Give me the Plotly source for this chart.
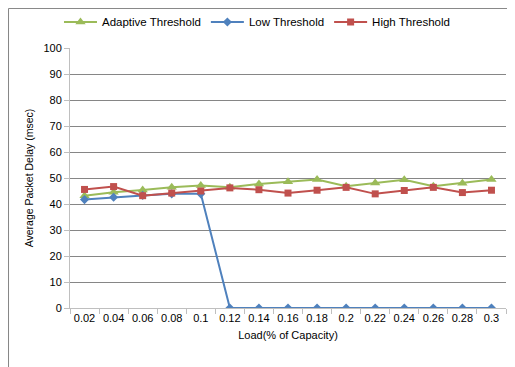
import plotly.graph_objects as go

loads = ["0.02", "0.04", "0.06", "0.08", "0.1", "0.12", "0.14", "0.16", "0.18", "0.2",
         "0.22", "0.24", "0.26", "0.28", "0.3"]
adaptive = [43.2, 44.5, 45.4, 46.4, 47.1, 46.4, 47.7, 48.6, 49.4, 46.8, 48.1, 49.3, 46.8, 48.0, 49.4]
low = [41.7, 42.6, 43.3, 43.9, 43.9, 0, 0, 0, 0, 0, 0, 0, 0, 0, 0]
high = [45.6, 46.7, 43.2, 44.2, 45.0, 46.2, 45.5, 44.2, 45.3, 46.4, 43.9, 45.2, 46.4, 44.4, 45.3]
y_ticks = list(range(0, 101, 10))

FONT = "Liberation Sans"

fig = go.Figure()
fig.add_trace(go.Scatter(x=loads, y=adaptive, name="Adaptive Threshold", mode="lines+markers",
                         line=dict(color="#9BBB59", width=2),
                         marker=dict(symbol="triangle-up", size=9, color="#9BBB59")))
fig.add_trace(go.Scatter(x=loads, y=low, name="Low Threshold", mode="lines+markers",
                         line=dict(color="#4F81BD", width=2),
                         marker=dict(symbol="diamond", size=7, color="#4F81BD")))
fig.add_trace(go.Scatter(x=loads, y=high, name="High Threshold", mode="lines+markers",
                         line=dict(color="#C0504D", width=2),
                         marker=dict(symbol="square", size=7, color="#C0504D")))

# outer chart border (partially cropped in reference)
fig.add_shape(type="line", xref="paper", yref="paper", x0=-0.141, x1=1.2, y0=1.152, y1=1.152,
              line=dict(color="#868686", width=1))
fig.add_shape(type="line", xref="paper", yref="paper", x0=-0.141, x1=-0.141, y0=1.152, y1=-0.4,
              line=dict(color="#868686", width=1))

fig.update_layout(
    width=515, height=367,
    margin=dict(l=62, r=17, t=40, b=67, autoexpand=False),
    paper_bgcolor="white", plot_bgcolor="white",
    font=dict(family=FONT, size=11, color="#000000"),
    showlegend=True,
    legend=dict(orientation="h", xref="container", yref="container",
                x=0.099, xanchor="left", y=0.962, yanchor="middle",
                font=dict(size=11.5), itemwidth=33, tracegroupgap=0, bgcolor="rgba(0,0,0,0)"),
    xaxis=dict(type="category", showgrid=False, showline=True, linecolor="#BFBFBF", linewidth=1,
               ticks="outside", tickson="boundaries", ticklen=5, tickcolor="#BFBFBF", tickangle=0,
               tickfont=dict(size=11), title=dict(text="Load(% of Capacity)", font=dict(size=11), standoff=8),
               range=[-0.5, 14.5]),
    yaxis=dict(range=[0, 100], tickvals=y_ticks, showgrid=True, gridcolor="#868686", gridwidth=1,
               showline=True, linecolor="#BFBFBF", linewidth=1, ticks="outside", ticklen=5,
               tickcolor="#BFBFBF", zeroline=False, tickfont=dict(size=11),
               title=dict(text="Average Packet Delay (msec)", font=dict(size=10.5), standoff=7)),
)

fig.write_html("out.html")
